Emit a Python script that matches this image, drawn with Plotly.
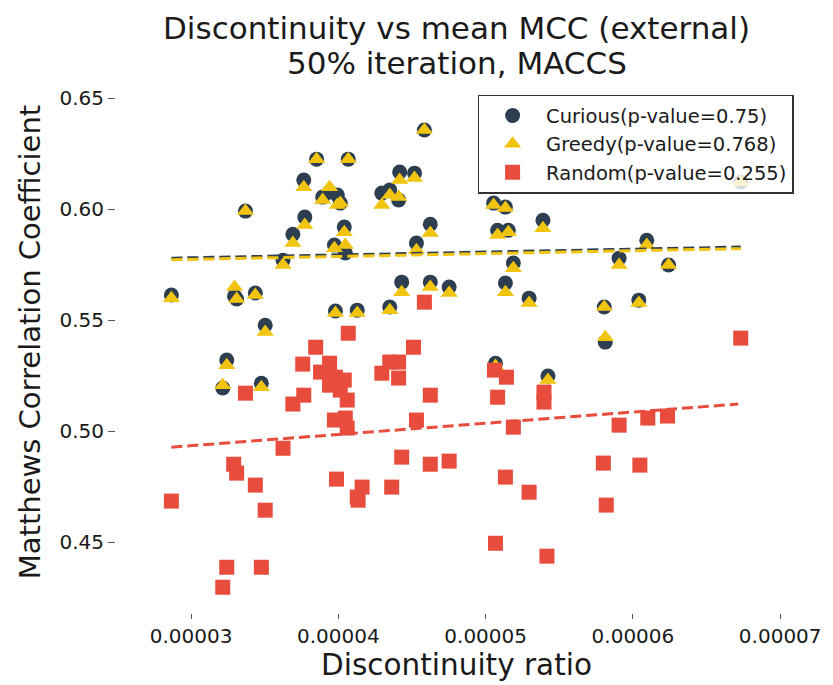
import plotly.graph_objects as go

# ---------------- data ----------------
# Curious / Greedy share the same discontinuity ratio per dataset
cg_ratio = [2.866e-5, 3.215e-5, 3.242e-5, 3.295e-5, 3.309e-5, 3.369e-5, 3.436e-5, 3.477e-5,
            3.503e-5, 3.624e-5, 3.691e-5, 3.765e-5, 3.772e-5, 3.852e-5, 3.940e-5, 3.993e-5,
            3.893e-5, 4.013e-5, 3.980e-5, 4.040e-5, 3.973e-5, 4.047e-5, 4.067e-5, 4.128e-5,
            4.295e-5, 4.349e-5, 4.409e-5, 4.416e-5, 4.517e-5, 4.349e-5, 4.430e-5, 4.530e-5,
            4.584e-5, 4.624e-5, 4.624e-5, 4.752e-5, 5.054e-5, 5.134e-5, 5.081e-5, 5.154e-5,
            5.134e-5, 5.067e-5, 5.188e-5, 5.295e-5, 5.389e-5, 5.423e-5, 5.805e-5, 5.812e-5,
            5.906e-5, 6.040e-5, 6.094e-5, 6.242e-5, 6.732e-5]
curious_mcc = [0.5613, 0.5194, 0.5320, 0.5608, 0.5595, 0.5991, 0.5622, 0.5216,
               0.5477, 0.5770, 0.5887, 0.6131, 0.5964, 0.6225, 0.6077, 0.6063,
               0.6054, 0.6027, 0.5541, 0.5919, 0.5838, 0.5802, 0.6225, 0.5545,
               0.6072, 0.6086, 0.6041, 0.6167, 0.6162, 0.5559, 0.5671, 0.5847,
               0.6356, 0.5932, 0.5671, 0.5649, 0.6027, 0.6009, 0.5905, 0.5905,
               0.5667, 0.5306, 0.5757, 0.5599, 0.5950, 0.5248, 0.5559, 0.5401,
               0.5779, 0.5590, 0.5860, 0.5748, 0.6122]
greedy_mcc = [0.5599, 0.5207, 0.5297, 0.5649, 0.5595, 0.5991, 0.5613, 0.5198,
              0.5446, 0.5748, 0.5847, 0.6099, 0.5928, 0.6225, 0.6099, 0.6018,
              0.6041, 0.6027, 0.5532, 0.5896, 0.5824, 0.5838, 0.6225, 0.5532,
              0.6018, 0.6063, 0.6054, 0.6131, 0.6140, 0.5545, 0.5626, 0.5815,
              0.6356, 0.5892, 0.5649, 0.5622, 0.6018, 0.6005, 0.5883, 0.5896,
              0.5626, 0.5293, 0.5734, 0.5577, 0.5914, 0.5230, 0.5559, 0.5423,
              0.5748, 0.5577, 0.5838, 0.5748, 0.6122]

random_ratio = [3.369e-5, 4.067e-5, 3.846e-5, 3.758e-5, 3.940e-5, 3.879e-5, 3.980e-5, 4.040e-5,
                3.940e-5, 4.013e-5, 4.060e-5, 3.765e-5, 3.691e-5, 3.973e-5, 4.047e-5, 4.060e-5,
                3.624e-5, 3.289e-5, 3.309e-5, 3.436e-5, 2.866e-5, 3.503e-5, 3.242e-5, 3.477e-5,
                3.215e-5, 3.987e-5, 4.128e-5, 4.510e-5, 4.349e-5, 4.409e-5, 4.295e-5, 4.409e-5,
                4.624e-5, 4.530e-5, 5.060e-5, 5.141e-5, 5.081e-5, 5.396e-5, 5.396e-5, 5.188e-5,
                4.430e-5, 4.624e-5, 4.752e-5, 4.161e-5, 4.134e-5, 4.362e-5, 5.134e-5, 5.295e-5,
                5.067e-5, 5.416e-5, 4.584e-5, 6.732e-5, 5.906e-5, 6.101e-5, 6.235e-5, 5.799e-5,
                6.047e-5, 5.819e-5]
random_mcc = [0.5171, 0.5441, 0.5378, 0.5302, 0.5306, 0.5266, 0.5243, 0.5230,
              0.5207, 0.5185, 0.5140, 0.5162, 0.5122, 0.5050, 0.5059, 0.5014,
              0.4923, 0.4851, 0.4811, 0.4757, 0.4685, 0.4644, 0.4387, 0.4387,
              0.4297, 0.4784, 0.4703, 0.5378, 0.5311, 0.5311, 0.5261, 0.5239,
              0.5162, 0.5050, 0.5275, 0.5243, 0.5153, 0.5176, 0.5131, 0.5018,
              0.4883, 0.4851, 0.4865, 0.4748, 0.4689, 0.4748, 0.4793, 0.4725,
              0.4495, 0.4437, 0.5581, 0.5419, 0.5027, 0.5059, 0.5068, 0.4856,
              0.4847, 0.4667]

# regression (trend) lines, endpoints
trend_x = [2.866e-5, 6.732e-5]
curious_trend = [0.5779, 0.5829]
greedy_trend = [0.5772, 0.5822]
random_x = [2.866e-5, 6.715e-5]
random_trend = [0.4928, 0.5122]

series_names = ["Curious(p-value=0.75)", "Greedy(p-value=0.768)", "Random(p-value=0.255)"]
title_lines = ["Discontinuity vs mean MCC (external)", "50% iteration, MACCS"]

x_tickvals = [3e-5, 4e-5, 5e-5, 6e-5, 7e-5]
x_ticktext = ["0.00003", "0.00004", "0.00005", "0.00006", "0.00007"]
y_tickvals = [0.45, 0.50, 0.55, 0.60, 0.65]
y_ticktext = ["0.45", "0.50", "0.55", "0.60", "0.65"]

C_CUR = "#2c3e50"
C_GRE = "#f1c40f"
C_RAN = "#e74c3c"
FONT = "DejaVu Sans"
TXT = "#1a1a1a"

fig = go.Figure()
fig.add_trace(go.Scatter(x=cg_ratio, y=curious_mcc, mode="markers", name=series_names[0],
                         marker=dict(symbol="circle", size=15, color=C_CUR)))
fig.add_trace(go.Scatter(x=cg_ratio, y=greedy_mcc, mode="markers", name=series_names[1],
                         marker=dict(symbol="triangle-up", size=15, color=C_GRE)))
fig.add_trace(go.Scatter(x=random_ratio, y=random_mcc, mode="markers", name=series_names[2],
                         marker=dict(symbol="square", size=15, color=C_RAN)))
fig.add_trace(go.Scatter(x=trend_x, y=curious_trend, mode="lines", showlegend=False,
                         line=dict(color=C_CUR, width=3, dash="11px,5px")))
fig.add_trace(go.Scatter(x=trend_x, y=greedy_trend, mode="lines", showlegend=False,
                         line=dict(color=C_GRE, width=3, dash="11px,5px")))
fig.add_trace(go.Scatter(x=random_x, y=random_trend, mode="lines", showlegend=False,
                         line=dict(color=C_RAN, width=3, dash="11px,5px")))

fig.update_layout(
    width=833, height=685,
    margin=dict(l=116, r=28, t=71, b=72),
    paper_bgcolor="white", plot_bgcolor="white",
    font=dict(family=FONT, color=TXT),
    annotations=[
        dict(text=title_lines[0], x=0.5, xref="paper", y=1.0793, yref="paper",
             xanchor="center", yanchor="middle", showarrow=False,
             font=dict(size=31, family=FONT, color=TXT)),
        dict(text=title_lines[1], x=0.5, xref="paper", y=1.0148, yref="paper",
             xanchor="center", yanchor="middle", showarrow=False,
             font=dict(size=31, family=FONT, color=TXT)),
    ],
    xaxis=dict(range=[2.490e-5, 7.114e-5], showgrid=False, zeroline=False, showline=False,
               ticks="outside", ticklen=5, tickwidth=1.3, tickcolor="#555",
               tickvals=x_tickvals, ticktext=x_ticktext,
               tickfont=dict(size=20, family=FONT, color=TXT),
               title=dict(text="Discontinuity ratio", font=dict(size=29.5, family=FONT, color=TXT),
                          standoff=2)),
    yaxis=dict(range=[0.4181, 0.6622], showgrid=False, zeroline=False, showline=False,
               ticks="outside", ticklen=7, tickwidth=1.3, tickcolor="#555",
               tickvals=y_tickvals, ticktext=y_ticktext,
               tickfont=dict(size=20, family=FONT, color=TXT),
               title=dict(text="Matthews Correlation Coefficient",
                          font=dict(size=29, family=FONT, color=TXT), standoff=10)),
    legend=dict(x=0.531, y=0.956, xanchor="left", yanchor="top",
                bgcolor="rgba(255,255,255,0.82)", bordercolor="#333", borderwidth=1.5,
                font=dict(size=19.5, family=FONT, color=TXT), tracegroupgap=0, itemwidth=57),
)

fig.write_html("out.html")
